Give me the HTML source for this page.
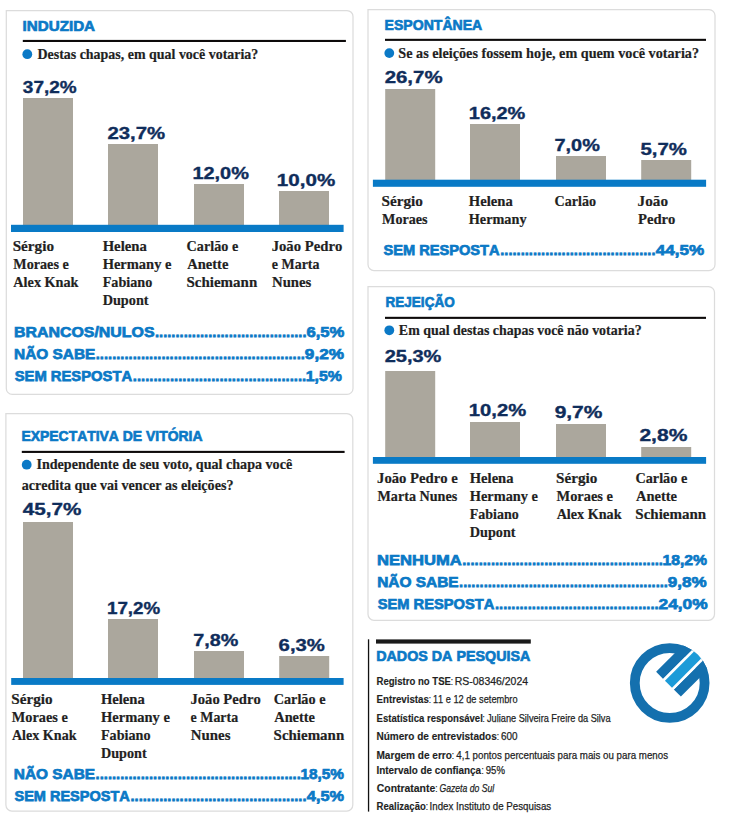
<!DOCTYPE html>
<html lang="pt-BR"><head><meta charset="utf-8"><title>Pesquisa eleitoral</title>
<style>
html,body{margin:0;padding:0;background:#fff;}
body{width:735px;height:820px;overflow:hidden;}
svg{display:block;}
svg text{font-kerning:none;font-variant-ligatures:none;}
.sansb{font-family:'Liberation Sans',Arial,sans-serif;font-weight:700;}
.sans{font-family:'Liberation Sans',Arial,sans-serif;font-weight:400;}
.sansi{font-family:'Liberation Sans',Arial,sans-serif;font-weight:400;font-style:italic;}
.serifb{font-family:'Liberation Serif','Times New Roman',serif;font-weight:700;}
</style></head><body>
<svg width="735" height="820" viewBox="0 0 735 820">
<path d="M6.3 10.5 H347 A6 6 0 0 1 353 16.5 V388.4 A6 6 0 0 1 347 394.4 H12.3 A6 6 0 0 1 6.3 388.4 Z" fill="#fff" stroke="#dcdcdc" stroke-width="1.25"/>
<text x="22.53" y="31.45" class="sansb" font-size="15.2" stroke="#0b79c6" stroke-width="0.7" fill="#0b79c6">INDUZIDA</text>
<rect x="22.8" y="39.9" width="323.1" height="2.1" fill="#0d0a0a"/>
<circle cx="27.3" cy="54.2" r="4.9" fill="#0b79c6"/>
<text x="37.45" y="59" class="serifb" font-size="14.5" textLength="220.88" lengthAdjust="spacingAndGlyphs" stroke="#231f1f" stroke-width="0.2" fill="#231f1f">Destas chapas, em qual você votaria?</text>
<rect x="23" y="98" width="50" height="128" fill="#aba79d"/>
<rect x="108" y="144" width="50" height="82" fill="#aba79d"/>
<rect x="194" y="184" width="50" height="42" fill="#aba79d"/>
<rect x="279" y="191" width="50" height="35" fill="#aba79d"/>
<rect x="11" y="224.8" width="332.6" height="7.2" fill="#097ac6"/>
<text x="22.84" y="92.92" class="sansb" font-size="16.3" textLength="53.79" lengthAdjust="spacingAndGlyphs" stroke="#0f2d5b" stroke-width="0.35" fill="#0f2d5b">37,2%</text>
<text x="107.47" y="139.22" class="sansb" font-size="16.3" textLength="57.69" lengthAdjust="spacingAndGlyphs" stroke="#0f2d5b" stroke-width="0.35" fill="#0f2d5b">23,7%</text>
<text x="192.42" y="178.82" class="sansb" font-size="16.3" textLength="56.53" lengthAdjust="spacingAndGlyphs" stroke="#0f2d5b" stroke-width="0.35" fill="#0f2d5b">12,0%</text>
<text x="276.88" y="185.82" class="sansb" font-size="16.3" textLength="58.29" lengthAdjust="spacingAndGlyphs" stroke="#0f2d5b" stroke-width="0.35" fill="#0f2d5b">10,0%</text>
<text x="12.69" y="250.7" class="serifb" font-size="14.5" textLength="41.29" lengthAdjust="spacingAndGlyphs" stroke="#231f1f" stroke-width="0.2" fill="#231f1f">Sérgio</text>
<text x="13.26" y="268.7" class="serifb" font-size="14.5" textLength="55.51" lengthAdjust="spacingAndGlyphs" stroke="#231f1f" stroke-width="0.2" fill="#231f1f">Moraes e</text>
<text x="13.36" y="286.7" class="serifb" font-size="14.5" textLength="65.16" lengthAdjust="spacingAndGlyphs" stroke="#231f1f" stroke-width="0.2" fill="#231f1f">Alex Knak</text>
<text x="102.65" y="250.7" class="serifb" font-size="14.5" textLength="44.17" lengthAdjust="spacingAndGlyphs" stroke="#231f1f" stroke-width="0.2" fill="#231f1f">Helena</text>
<text x="102.65" y="268.7" class="serifb" font-size="14.5" stroke="#231f1f" stroke-width="0.2" fill="#231f1f">Hermany e</text>
<text x="102.66" y="286.7" class="serifb" font-size="14.5" textLength="49.68" lengthAdjust="spacingAndGlyphs" stroke="#231f1f" stroke-width="0.2" fill="#231f1f">Fabiano</text>
<text x="102.65" y="304.7" class="serifb" font-size="14.5" textLength="45.91" lengthAdjust="spacingAndGlyphs" stroke="#231f1f" stroke-width="0.2" fill="#231f1f">Dupont</text>
<text x="186.61" y="250.7" class="serifb" font-size="14.5" textLength="51.56" lengthAdjust="spacingAndGlyphs" stroke="#231f1f" stroke-width="0.2" fill="#231f1f">Carlão e</text>
<text x="187.16" y="268.7" class="serifb" font-size="14.5" textLength="41.22" lengthAdjust="spacingAndGlyphs" stroke="#231f1f" stroke-width="0.2" fill="#231f1f">Anette</text>
<text x="186.5" y="286.7" class="serifb" font-size="14.5" textLength="70.72" lengthAdjust="spacingAndGlyphs" stroke="#231f1f" stroke-width="0.2" fill="#231f1f">Schiemann</text>
<text x="271.65" y="250.7" class="serifb" font-size="14.5" textLength="70.61" lengthAdjust="spacingAndGlyphs" stroke="#231f1f" stroke-width="0.2" fill="#231f1f">João Pedro</text>
<text x="271.82" y="268.7" class="serifb" font-size="14.5" textLength="47.69" lengthAdjust="spacingAndGlyphs" stroke="#231f1f" stroke-width="0.2" fill="#231f1f">e Marta</text>
<text x="272.02" y="286.7" class="serifb" font-size="14.5" textLength="39.34" lengthAdjust="spacingAndGlyphs" stroke="#231f1f" stroke-width="0.2" fill="#231f1f">Nunes</text>
<text x="14.01" y="337.32" class="sansb" font-size="15.5" textLength="140.54" lengthAdjust="spacingAndGlyphs" stroke="#0b79c6" stroke-width="0.75" fill="#0b79c6">BRANCOS/NULOS</text>
<text x="306.47" y="337.32" class="sansb" font-size="15.5" textLength="37.9" lengthAdjust="spacingAndGlyphs" stroke="#0b79c6" stroke-width="0.75" fill="#0b79c6">6,5%</text>
<text x="154.97" y="337.32" class="sansb" font-size="15.5" textLength="151.57" lengthAdjust="spacingAndGlyphs" stroke="#0b79c6" stroke-width="0.75" fill="#0b79c6">.....................................</text>
<text x="14.04" y="359.32" class="sansb" font-size="15.5" textLength="81.28" lengthAdjust="spacingAndGlyphs" stroke="#0b79c6" stroke-width="0.75" fill="#0b79c6">NÃO SABE</text>
<text x="304.88" y="359.32" class="sansb" font-size="15.5" textLength="39.1" lengthAdjust="spacingAndGlyphs" stroke="#0b79c6" stroke-width="0.75" fill="#0b79c6">9,2%</text>
<text x="95.77" y="359.32" class="sansb" font-size="15.5" textLength="209.17" lengthAdjust="spacingAndGlyphs" stroke="#0b79c6" stroke-width="0.75" fill="#0b79c6">...................................................</text>
<text x="14.65" y="381.12" class="sansb" font-size="15.5" textLength="117.57" lengthAdjust="spacingAndGlyphs" stroke="#0b79c6" stroke-width="0.75" fill="#0b79c6">SEM RESPOSTA</text>
<text x="305.68" y="381.12" class="sansb" font-size="15.5" textLength="36.17" lengthAdjust="spacingAndGlyphs" stroke="#0b79c6" stroke-width="0.75" fill="#0b79c6">1,5%</text>
<text x="132.87" y="381.12" class="sansb" font-size="15.5" textLength="173.28" lengthAdjust="spacingAndGlyphs" stroke="#0b79c6" stroke-width="0.75" fill="#0b79c6">..........................................</text>
<path d="M368 9.6 H709 A6 6 0 0 1 715 15.6 V264.5 A6 6 0 0 1 709 270.5 H374 A6 6 0 0 1 368 264.5 Z" fill="#fff" stroke="#dcdcdc" stroke-width="1.25"/>
<text x="384.61" y="30.45" class="sansb" font-size="15.2" textLength="97.61" lengthAdjust="spacingAndGlyphs" stroke="#0b79c6" stroke-width="0.7" fill="#0b79c6">ESPONTÂNEA</text>
<rect x="385" y="38.8" width="321" height="2.1" fill="#0d0a0a"/>
<circle cx="389.3" cy="53.1" r="4.9" fill="#0b79c6"/>
<text x="398.34" y="57.9" class="serifb" font-size="14.5" textLength="300.7" lengthAdjust="spacingAndGlyphs" stroke="#231f1f" stroke-width="0.2" fill="#231f1f">Se as eleições fossem hoje, em quem você votaria?</text>
<rect x="385.2" y="89" width="50" height="92" fill="#aba79d"/>
<rect x="470" y="124" width="50" height="57" fill="#aba79d"/>
<rect x="556" y="156" width="50" height="25" fill="#aba79d"/>
<rect x="641.2" y="160" width="50" height="21" fill="#aba79d"/>
<rect x="372.9" y="179.7" width="333.2" height="7.1" fill="#097ac6"/>
<text x="384.67" y="83.03" class="sansb" font-size="16.3" textLength="57.9" lengthAdjust="spacingAndGlyphs" stroke="#0f2d5b" stroke-width="0.35" fill="#0f2d5b">26,7%</text>
<text x="468.82" y="118.73" class="sansb" font-size="16.3" textLength="56.53" lengthAdjust="spacingAndGlyphs" stroke="#0f2d5b" stroke-width="0.35" fill="#0f2d5b">16,2%</text>
<text x="554.52" y="150.62" class="sansb" font-size="16.3" textLength="45.33" lengthAdjust="spacingAndGlyphs" stroke="#0f2d5b" stroke-width="0.35" fill="#0f2d5b">7,0%</text>
<text x="640.45" y="154.52" class="sansb" font-size="16.3" textLength="46.41" lengthAdjust="spacingAndGlyphs" stroke="#0f2d5b" stroke-width="0.35" fill="#0f2d5b">5,7%</text>
<text x="381.49" y="205.9" class="serifb" font-size="14.5" textLength="41.39" lengthAdjust="spacingAndGlyphs" stroke="#231f1f" stroke-width="0.2" fill="#231f1f">Sérgio</text>
<text x="382.06" y="223.7" class="serifb" font-size="14.5" textLength="45.49" lengthAdjust="spacingAndGlyphs" stroke="#231f1f" stroke-width="0.2" fill="#231f1f">Moraes</text>
<text x="468.75" y="205.9" class="serifb" font-size="14.5" textLength="43.97" lengthAdjust="spacingAndGlyphs" stroke="#231f1f" stroke-width="0.2" fill="#231f1f">Helena</text>
<text x="468.76" y="223.7" class="serifb" font-size="14.5" textLength="57.78" lengthAdjust="spacingAndGlyphs" stroke="#231f1f" stroke-width="0.2" fill="#231f1f">Hermany</text>
<text x="554.51" y="205.9" class="serifb" font-size="14.5" textLength="41.53" lengthAdjust="spacingAndGlyphs" stroke="#231f1f" stroke-width="0.2" fill="#231f1f">Carlão</text>
<text x="637.63" y="205.9" class="serifb" font-size="14.5" textLength="30.35" lengthAdjust="spacingAndGlyphs" stroke="#231f1f" stroke-width="0.2" fill="#231f1f">João</text>
<text x="638.05" y="223.7" class="serifb" font-size="14.5" textLength="37.31" lengthAdjust="spacingAndGlyphs" stroke="#231f1f" stroke-width="0.2" fill="#231f1f">Pedro</text>
<text x="383.45" y="255.02" class="sansb" font-size="15.5" textLength="116.16" lengthAdjust="spacingAndGlyphs" stroke="#0b79c6" stroke-width="0.75" fill="#0b79c6">SEM RESPOSTA</text>
<text x="655.82" y="255.02" class="sansb" font-size="15.5" textLength="48.26" lengthAdjust="spacingAndGlyphs" stroke="#0b79c6" stroke-width="0.75" fill="#0b79c6">44,5%</text>
<text x="500.28" y="255.02" class="sansb" font-size="15.5" textLength="155.26" lengthAdjust="spacingAndGlyphs" stroke="#0b79c6" stroke-width="0.75" fill="#0b79c6">......................................</text>
<path d="M368 286.6 H708.5 A6 6 0 0 1 714.5 292.6 V614.3 A6 6 0 0 1 708.5 620.3 H374 A6 6 0 0 1 368 614.3 Z" fill="#fff" stroke="#dcdcdc" stroke-width="1.25"/>
<text x="385.54" y="307.45" class="sansb" font-size="15.2" textLength="69.17" lengthAdjust="spacingAndGlyphs" stroke="#0b79c6" stroke-width="0.7" fill="#0b79c6">REJEIÇÃO</text>
<rect x="385" y="316.8" width="321" height="2.1" fill="#0d0a0a"/>
<circle cx="389.3" cy="330.3" r="4.9" fill="#0b79c6"/>
<text x="398.86" y="334.8" class="serifb" font-size="14.5" textLength="242.77" lengthAdjust="spacingAndGlyphs" stroke="#231f1f" stroke-width="0.2" fill="#231f1f">Em qual destas chapas você não votaria?</text>
<rect x="385.2" y="371" width="50" height="87" fill="#aba79d"/>
<rect x="470" y="422" width="50" height="36" fill="#aba79d"/>
<rect x="556" y="424" width="50" height="34" fill="#aba79d"/>
<rect x="641.2" y="447" width="50" height="11" fill="#aba79d"/>
<rect x="372.9" y="457" width="333.2" height="6.8" fill="#097ac6"/>
<text x="384.68" y="362.12" class="sansb" font-size="16.3" textLength="56.67" lengthAdjust="spacingAndGlyphs" stroke="#0f2d5b" stroke-width="0.35" fill="#0f2d5b">25,3%</text>
<text x="468.8" y="416.12" class="sansb" font-size="16.3" textLength="57.36" lengthAdjust="spacingAndGlyphs" stroke="#0f2d5b" stroke-width="0.35" fill="#0f2d5b">10,2%</text>
<text x="554.65" y="418.22" class="sansb" font-size="16.3" textLength="47.73" lengthAdjust="spacingAndGlyphs" stroke="#0f2d5b" stroke-width="0.35" fill="#0f2d5b">9,7%</text>
<text x="639.45" y="441.02" class="sansb" font-size="16.3" textLength="47.93" lengthAdjust="spacingAndGlyphs" stroke="#0f2d5b" stroke-width="0.35" fill="#0f2d5b">2,8%</text>
<text x="377.05" y="482.5" class="serifb" font-size="14.5" textLength="80.83" lengthAdjust="spacingAndGlyphs" stroke="#231f1f" stroke-width="0.2" fill="#231f1f">João Pedro e</text>
<text x="377.46" y="500.5" class="serifb" font-size="14.5" textLength="79.79" lengthAdjust="spacingAndGlyphs" stroke="#231f1f" stroke-width="0.2" fill="#231f1f">Marta Nunes</text>
<text x="469.75" y="482.5" class="serifb" font-size="14.5" textLength="43.77" lengthAdjust="spacingAndGlyphs" stroke="#231f1f" stroke-width="0.2" fill="#231f1f">Helena</text>
<text x="469.75" y="500.5" class="serifb" font-size="14.5" textLength="68.22" lengthAdjust="spacingAndGlyphs" stroke="#231f1f" stroke-width="0.2" fill="#231f1f">Hermany e</text>
<text x="469.76" y="518.5" class="serifb" font-size="14.5" textLength="48.97" lengthAdjust="spacingAndGlyphs" stroke="#231f1f" stroke-width="0.2" fill="#231f1f">Fabiano</text>
<text x="469.75" y="536.5" class="serifb" font-size="14.5" textLength="45.81" lengthAdjust="spacingAndGlyphs" stroke="#231f1f" stroke-width="0.2" fill="#231f1f">Dupont</text>
<text x="555.99" y="482.5" class="serifb" font-size="14.5" textLength="41.29" lengthAdjust="spacingAndGlyphs" stroke="#231f1f" stroke-width="0.2" fill="#231f1f">Sérgio</text>
<text x="556.55" y="500.5" class="serifb" font-size="14.5" textLength="56.42" lengthAdjust="spacingAndGlyphs" stroke="#231f1f" stroke-width="0.2" fill="#231f1f">Moraes e</text>
<text x="556.66" y="518.5" class="serifb" font-size="14.5" textLength="64.86" lengthAdjust="spacingAndGlyphs" stroke="#231f1f" stroke-width="0.2" fill="#231f1f">Alex Knak</text>
<text x="635.4" y="482.5" class="serifb" font-size="14.5" textLength="51.87" lengthAdjust="spacingAndGlyphs" stroke="#231f1f" stroke-width="0.2" fill="#231f1f">Carlão e</text>
<text x="635.96" y="500.5" class="serifb" font-size="14.5" stroke="#231f1f" stroke-width="0.2" fill="#231f1f">Anette</text>
<text x="635.3" y="518.5" class="serifb" font-size="14.5" textLength="70.83" lengthAdjust="spacingAndGlyphs" stroke="#231f1f" stroke-width="0.2" fill="#231f1f">Schiemann</text>
<text x="377.07" y="565.12" class="sansb" font-size="15.5" textLength="84.59" lengthAdjust="spacingAndGlyphs" stroke="#0b79c6" stroke-width="0.75" fill="#0b79c6">NENHUMA</text>
<text x="662.49" y="565.12" class="sansb" font-size="15.5" textLength="44.55" lengthAdjust="spacingAndGlyphs" stroke="#0b79c6" stroke-width="0.75" fill="#0b79c6">18,2%</text>
<text x="462.27" y="565.12" class="sansb" font-size="15.5" textLength="200.67" lengthAdjust="spacingAndGlyphs" stroke="#0b79c6" stroke-width="0.75" fill="#0b79c6">.................................................</text>
<text x="377.14" y="586.83" class="sansb" font-size="15.5" textLength="81.49" lengthAdjust="spacingAndGlyphs" stroke="#0b79c6" stroke-width="0.75" fill="#0b79c6">NÃO SABE</text>
<text x="667.89" y="586.83" class="sansb" font-size="15.5" textLength="38.79" lengthAdjust="spacingAndGlyphs" stroke="#0b79c6" stroke-width="0.75" fill="#0b79c6">9,8%</text>
<text x="459.07" y="586.83" class="sansb" font-size="15.5" textLength="208.87" lengthAdjust="spacingAndGlyphs" stroke="#0b79c6" stroke-width="0.75" fill="#0b79c6">...................................................</text>
<text x="377.75" y="608.83" class="sansb" font-size="15.5" textLength="116.56" lengthAdjust="spacingAndGlyphs" stroke="#0b79c6" stroke-width="0.75" fill="#0b79c6">SEM RESPOSTA</text>
<text x="658.58" y="608.83" class="sansb" font-size="15.5" textLength="49" lengthAdjust="spacingAndGlyphs" stroke="#0b79c6" stroke-width="0.75" fill="#0b79c6">24,0%</text>
<text x="494.98" y="608.83" class="sansb" font-size="15.5" textLength="163.66" lengthAdjust="spacingAndGlyphs" stroke="#0b79c6" stroke-width="0.75" fill="#0b79c6">........................................</text>
<path d="M5.9 413.5 H346.8 A6 6 0 0 1 352.8 419.5 V805 A6 6 0 0 1 346.8 811 H11.9 A6 6 0 0 1 5.9 805 Z" fill="#fff" stroke="#dcdcdc" stroke-width="1.25"/>
<text x="21.42" y="441.15" class="sansb" font-size="15.2" textLength="181.1" lengthAdjust="spacingAndGlyphs" stroke="#0b79c6" stroke-width="0.7" fill="#0b79c6">EXPECTATIVA DE VITÓRIA</text>
<rect x="21.8" y="450.85" width="322.8" height="2.1" fill="#0d0a0a"/>
<circle cx="26.7" cy="464.7" r="4.9" fill="#0b79c6"/>
<text x="36.43" y="469.1" class="serifb" font-size="14.5" textLength="255.74" lengthAdjust="spacingAndGlyphs" stroke="#231f1f" stroke-width="0.2" fill="#231f1f">Independente de seu voto, qual chapa você</text>
<text x="21.65" y="490.2" class="serifb" font-size="14.5" textLength="211.79" lengthAdjust="spacingAndGlyphs" stroke="#231f1f" stroke-width="0.2" fill="#231f1f">acredita que vai vencer as eleições?</text>
<rect x="23" y="522" width="50" height="157" fill="#aba79d"/>
<rect x="108" y="619" width="50" height="60" fill="#aba79d"/>
<rect x="194" y="651" width="50" height="28" fill="#aba79d"/>
<rect x="279.2" y="656" width="50" height="23" fill="#aba79d"/>
<rect x="11.2" y="678" width="332.4" height="6.9" fill="#097ac6"/>
<text x="22.86" y="515.43" class="sansb" font-size="16.3" textLength="58.51" lengthAdjust="spacingAndGlyphs" stroke="#0f2d5b" stroke-width="0.35" fill="#0f2d5b">45,7%</text>
<text x="106.99" y="613.53" class="sansb" font-size="16.3" textLength="53.23" lengthAdjust="spacingAndGlyphs" stroke="#0f2d5b" stroke-width="0.35" fill="#0f2d5b">17,2%</text>
<text x="193.33" y="646.23" class="sansb" font-size="16.3" textLength="45.02" lengthAdjust="spacingAndGlyphs" stroke="#0f2d5b" stroke-width="0.35" fill="#0f2d5b">7,8%</text>
<text x="278.63" y="651.12" class="sansb" font-size="16.3" textLength="46.23" lengthAdjust="spacingAndGlyphs" stroke="#0f2d5b" stroke-width="0.35" fill="#0f2d5b">6,3%</text>
<text x="11.29" y="703.7" class="serifb" font-size="14.5" textLength="41.29" lengthAdjust="spacingAndGlyphs" stroke="#231f1f" stroke-width="0.2" fill="#231f1f">Sérgio</text>
<text x="11.86" y="721.7" class="serifb" font-size="14.5" textLength="56.01" lengthAdjust="spacingAndGlyphs" stroke="#231f1f" stroke-width="0.2" fill="#231f1f">Moraes e</text>
<text x="11.96" y="739.7" class="serifb" font-size="14.5" textLength="64.56" lengthAdjust="spacingAndGlyphs" stroke="#231f1f" stroke-width="0.2" fill="#231f1f">Alex Knak</text>
<text x="100.95" y="703.7" class="serifb" font-size="14.5" textLength="43.87" lengthAdjust="spacingAndGlyphs" stroke="#231f1f" stroke-width="0.2" fill="#231f1f">Helena</text>
<text x="100.95" y="721.7" class="serifb" font-size="14.5" textLength="69.02" lengthAdjust="spacingAndGlyphs" stroke="#231f1f" stroke-width="0.2" fill="#231f1f">Hermany e</text>
<text x="100.96" y="739.7" class="serifb" font-size="14.5" textLength="49.58" lengthAdjust="spacingAndGlyphs" stroke="#231f1f" stroke-width="0.2" fill="#231f1f">Fabiano</text>
<text x="100.95" y="757.7" class="serifb" font-size="14.5" textLength="45.71" lengthAdjust="spacingAndGlyphs" stroke="#231f1f" stroke-width="0.2" fill="#231f1f">Dupont</text>
<text x="190.45" y="703.7" class="serifb" font-size="14.5" textLength="70.31" lengthAdjust="spacingAndGlyphs" stroke="#231f1f" stroke-width="0.2" fill="#231f1f">João Pedro</text>
<text x="190.62" y="721.7" class="serifb" font-size="14.5" textLength="47.49" lengthAdjust="spacingAndGlyphs" stroke="#231f1f" stroke-width="0.2" fill="#231f1f">e Marta</text>
<text x="190.82" y="739.7" class="serifb" font-size="14.5" textLength="39.65" lengthAdjust="spacingAndGlyphs" stroke="#231f1f" stroke-width="0.2" fill="#231f1f">Nunes</text>
<text x="273.71" y="703.7" class="serifb" font-size="14.5" textLength="51.76" lengthAdjust="spacingAndGlyphs" stroke="#231f1f" stroke-width="0.2" fill="#231f1f">Carlão e</text>
<text x="274.26" y="721.7" class="serifb" font-size="14.5" textLength="40.71" lengthAdjust="spacingAndGlyphs" stroke="#231f1f" stroke-width="0.2" fill="#231f1f">Anette</text>
<text x="273.6" y="739.7" class="serifb" font-size="14.5" textLength="70.62" lengthAdjust="spacingAndGlyphs" stroke="#231f1f" stroke-width="0.2" fill="#231f1f">Schiemann</text>
<text x="13.84" y="779.03" class="sansb" font-size="15.5" textLength="81.28" lengthAdjust="spacingAndGlyphs" stroke="#0b79c6" stroke-width="0.75" fill="#0b79c6">NÃO SABE</text>
<text x="300.41" y="779.03" class="sansb" font-size="15.5" textLength="43.52" lengthAdjust="spacingAndGlyphs" stroke="#0b79c6" stroke-width="0.75" fill="#0b79c6">18,5%</text>
<text x="95.57" y="779.03" class="sansb" font-size="15.5" textLength="205.27" lengthAdjust="spacingAndGlyphs" stroke="#0b79c6" stroke-width="0.75" fill="#0b79c6">..................................................</text>
<text x="14.46" y="800.62" class="sansb" font-size="15.5" textLength="115.35" lengthAdjust="spacingAndGlyphs" stroke="#0b79c6" stroke-width="0.75" fill="#0b79c6">SEM RESPOSTA</text>
<text x="306.83" y="800.62" class="sansb" font-size="15.5" textLength="37.13" lengthAdjust="spacingAndGlyphs" stroke="#0b79c6" stroke-width="0.75" fill="#0b79c6">4,5%</text>
<text x="130.47" y="800.62" class="sansb" font-size="15.5" textLength="176.06" lengthAdjust="spacingAndGlyphs" stroke="#0b79c6" stroke-width="0.75" fill="#0b79c6">...........................................</text>
<rect x="367.9" y="639.3" width="1.3" height="172.3" fill="#111"/>
<rect x="376" y="639.4" width="154.8" height="4.2" fill="#1a1a1a"/>
<text x="376.19" y="660.75" class="sansb" font-size="15.2" textLength="154.13" lengthAdjust="spacingAndGlyphs" stroke="#0b79c6" stroke-width="0.7" fill="#0b79c6">DADOS DA PESQUISA</text>
<text x="376.54" y="685.32" class="sansb" font-size="11.2" textLength="74.36" lengthAdjust="spacingAndGlyphs" stroke="#231f1f" stroke-width="0.15" fill="#231f1f">Registro no TSE</text>
<text x="450.58" y="685.4" class="sans" font-size="11.2" textLength="2.8" lengthAdjust="spacingAndGlyphs" fill="#231f1f">:</text>
<text x="454.73" y="685.27" class="sans" font-size="11.2" textLength="73.36" lengthAdjust="spacingAndGlyphs" stroke="#231f1f" stroke-width="0.25" fill="#231f1f">RS-08346/2024</text>
<text x="376.52" y="703.23" class="sansb" font-size="11.2" textLength="52.4" lengthAdjust="spacingAndGlyphs" stroke="#231f1f" stroke-width="0.15" fill="#231f1f">Entrevistas</text>
<text x="428.58" y="703.3" class="sans" font-size="11.2" textLength="2.8" lengthAdjust="spacingAndGlyphs" fill="#231f1f">:</text>
<text x="432.88" y="703.18" class="sans" font-size="11.2" textLength="84.68" lengthAdjust="spacingAndGlyphs" stroke="#231f1f" stroke-width="0.25" fill="#231f1f">11 e 12 de setembro</text>
<text x="376.54" y="721.92" class="sansb" font-size="11.2" textLength="106.27" lengthAdjust="spacingAndGlyphs" stroke="#231f1f" stroke-width="0.15" fill="#231f1f">Estatística responsável</text>
<text x="482.18" y="722" class="sans" font-size="11.2" textLength="2.8" lengthAdjust="spacingAndGlyphs" fill="#231f1f">:</text>
<text x="487.04" y="721.88" class="sans" font-size="11.2" textLength="123.53" lengthAdjust="spacingAndGlyphs" stroke="#231f1f" stroke-width="0.25" fill="#231f1f">Juliane Silveira Freire da Silva</text>
<text x="376.5" y="740.12" class="sansb" font-size="11.2" textLength="120.33" lengthAdjust="spacingAndGlyphs" stroke="#231f1f" stroke-width="0.15" fill="#231f1f">Número de entrevistados</text>
<text x="496.48" y="740.2" class="sans" font-size="11.2" textLength="2.8" lengthAdjust="spacingAndGlyphs" fill="#231f1f">:</text>
<text x="500.98" y="740.08" class="sans" font-size="11.2" textLength="16.58" lengthAdjust="spacingAndGlyphs" stroke="#231f1f" stroke-width="0.25" fill="#231f1f">600</text>
<text x="376.5" y="758.92" class="sansb" font-size="11.2" textLength="75.42" lengthAdjust="spacingAndGlyphs" stroke="#231f1f" stroke-width="0.15" fill="#231f1f">Margem de erro</text>
<text x="451.58" y="759" class="sans" font-size="11.2" textLength="2.8" lengthAdjust="spacingAndGlyphs" fill="#231f1f">:</text>
<text x="456.36" y="758.88" class="sans" font-size="11.2" textLength="211.67" lengthAdjust="spacingAndGlyphs" stroke="#231f1f" stroke-width="0.25" fill="#231f1f">4,1 pontos percentuais para mais ou para menos</text>
<text x="376.51" y="774.02" class="sansb" font-size="11.2" textLength="104.55" lengthAdjust="spacingAndGlyphs" stroke="#231f1f" stroke-width="0.15" fill="#231f1f">Intervalo de confiança</text>
<text x="481.18" y="774.1" class="sans" font-size="11.2" textLength="2.8" lengthAdjust="spacingAndGlyphs" fill="#231f1f">:</text>
<text x="485.74" y="773.98" class="sans" font-size="11.2" textLength="19.18" lengthAdjust="spacingAndGlyphs" stroke="#231f1f" stroke-width="0.25" fill="#231f1f">95%</text>
<text x="376.75" y="791.92" class="sansb" font-size="11.2" textLength="58.43" lengthAdjust="spacingAndGlyphs" stroke="#231f1f" stroke-width="0.15" fill="#231f1f">Contratante</text>
<text x="434.88" y="792" class="sans" font-size="11.2" textLength="2.8" lengthAdjust="spacingAndGlyphs" fill="#231f1f">:</text>
<text x="439.46" y="791.88" class="sansi" font-size="11.2" textLength="54.72" lengthAdjust="spacingAndGlyphs" stroke="#231f1f" stroke-width="0.25" fill="#231f1f">Gazeta do Sul</text>
<text x="376.54" y="809.92" class="sansb" font-size="11.2" textLength="49.26" lengthAdjust="spacingAndGlyphs" stroke="#231f1f" stroke-width="0.15" fill="#231f1f">Realização</text>
<text x="425.48" y="810" class="sans" font-size="11.2" textLength="2.8" lengthAdjust="spacingAndGlyphs" fill="#231f1f">:</text>
<text x="429.59" y="809.88" class="sans" font-size="11.2" textLength="121.64" lengthAdjust="spacingAndGlyphs" stroke="#231f1f" stroke-width="0.25" fill="#231f1f">Index Instituto de Pesquisas</text>
<g transform="translate(669.7 683)">
<circle r="34.9" fill="none" stroke="#1470ae" stroke-width="9.8"/>
<g transform="rotate(-45)">
<clipPath id="lc"><circle r="39.9"/></clipPath>
<g clip-path="url(#lc)">
<rect x="-1.7" y="-17.5" width="44" height="10" fill="#1470ae"/>
<rect x="-1.7" y="7.5" width="44" height="10" fill="#1470ae"/>
<rect x="-1.7" y="-7.6" width="44" height="15.2" fill="#fff"/>
<rect x="-1.7" y="-5" width="44" height="10" fill="#1c9bd8"/></g>
</g></g>
</svg>
</body></html>
